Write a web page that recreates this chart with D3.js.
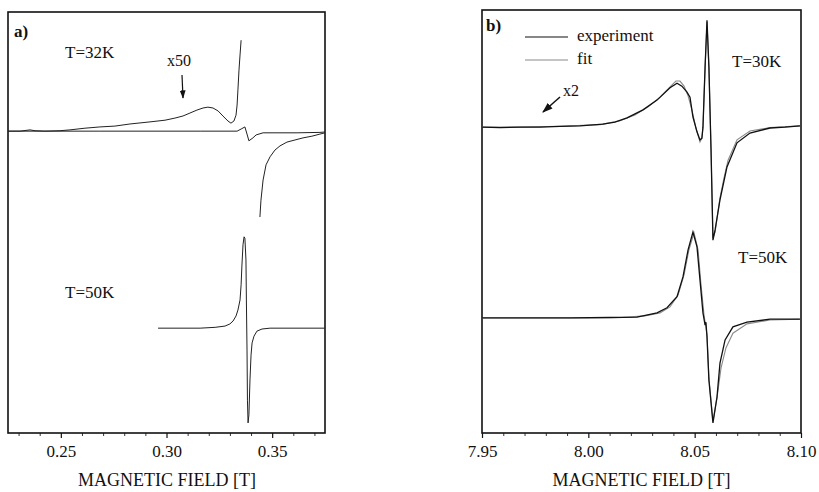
<!DOCTYPE html>
<html>
<head>
<meta charset="utf-8">
<script src="https://cdn.jsdelivr.net/npm/d3@7"></script>
<style>
  html, body { margin: 0; padding: 0; background: #fff; }
  svg { display: block; }
</style>
</head>
<body>
<svg id="chart" width="819" height="492"></svg>
<script>
// ---------- DATA (field in tesla, signal in arbitrary units 0..100) ----------
// Panel a) X-band
const ticksA = [0.25, 0.30, 0.35];
const exp32x50_part1 = [
  [0.2250,71.7],[0.2307,71.7],[0.2354,72.0],[0.2378,71.8],[0.2425,71.7],[0.2496,71.8],
  [0.2543,72.0],[0.2614,72.4],[0.2685,72.7],[0.2756,72.9],[0.2827,73.4],[0.2922,73.9],
  [0.2993,74.3],[0.3040,74.8],[0.3078,75.3],[0.3111,76.0],[0.3144,76.7],[0.3173,77.2],
  [0.3196,77.4],[0.3220,77.2],[0.3244,76.5],[0.3267,75.3],[0.3291,74.1],[0.3305,73.6],
  [0.3319,74.1],[0.3329,75.5],[0.3334,77.9],[0.3338,81.5],[0.3343,86.2],[0.3348,89.8],
  [0.3353,93.3]
];
const exp32x50_part2 = [
  [0.3442,51.3],[0.3447,55.3],[0.3457,60.1],[0.3471,63.7],[0.3490,65.6],[0.3513,67.2],
  [0.3537,68.2],[0.3570,69.1],[0.3608,69.6],[0.3646,70.1],[0.3688,70.5],[0.3726,71.0],
  [0.3750,71.3]
];
const exp32x1 = [
  [0.2250,71.7],[0.2354,71.7],[0.2685,71.7],[0.3159,71.7],[0.3334,71.7],[0.3353,72.2],
  [0.3371,72.7],[0.3381,71.0],[0.3390,69.4],[0.3409,70.1],[0.3424,70.8],[0.3457,71.3],
  [0.3537,71.3],[0.3618,71.3],[0.3726,71.4],[0.3750,71.5]
];
const exp50A = [
  [0.2960,24.9],[0.3064,24.9],[0.3159,24.9],[0.3230,25.1],[0.3277,25.4],[0.3300,25.9],
  [0.3315,26.6],[0.3329,27.8],[0.3338,29.2],[0.3348,31.6],[0.3353,35.2],[0.3357,39.9],
  [0.3362,44.7],[0.3367,46.6],[0.3371,46.3],[0.3376,41.1],[0.3378,31.6],[0.3381,19.7],
  [0.3383,7.8],[0.3386,2.4],[0.3390,4.3],[0.3395,12.6],[0.3400,18.5],[0.3405,21.4],
  [0.3414,23.0],[0.3428,24.2],[0.3452,24.7],[0.3490,24.9],[0.3750,24.9]
];

// Panel b) high field
const ticksB = [7.95, 8.00, 8.05, 8.10];
const exp30B = [
  [7.9500,72.3],[7.9585,72.2],[7.9679,72.3],[7.9773,72.3],[7.9867,72.5],[7.9961,72.6],
  [8.0069,73.0],[8.0125,73.5],[8.0182,74.5],[8.0257,76.4],[8.0323,78.7],[8.0384,81.6],
  [8.0417,82.7],[8.0440,82.0],[8.0464,80.6],[8.0478,79.4],[8.0492,74.7],[8.0511,71.2],
  [8.0525,69.3],[8.0534,69.7],[8.0539,72.3],[8.0549,86.5],[8.0558,97.6],[8.0567,86.5],
  [8.0577,66.9],[8.0582,55.1],[8.0586,45.6],[8.0596,48.0],[8.0619,55.1],[8.0652,62.9],
  [8.0699,68.6],[8.0760,70.9],[8.0854,72.1],[8.0925,72.3],[8.0995,72.6]
];
const fit30B = [
  [7.9500,72.3],[7.9679,72.3],[7.9867,72.5],[8.0055,72.9],[8.0149,73.8],[8.0219,75.2],
  [8.0281,77.1],[8.0337,79.4],[8.0384,81.8],[8.0412,83.2],[8.0431,83.2],[8.0450,82.0],
  [8.0469,79.7],[8.0487,76.4],[8.0506,72.1],[8.0525,68.8],[8.0534,69.7],[8.0539,72.3],
  [8.0549,86.5],[8.0558,97.2],[8.0567,86.5],[8.0577,66.9],[8.0582,55.1],[8.0586,46.1],
  [8.0596,47.5],[8.0619,55.6],[8.0638,60.3],[8.0657,64.5],[8.0699,69.3],[8.0760,71.4],
  [8.0854,72.2],[8.0995,72.6]
];
const exp50B = [
  [7.9500,27.2],[7.9679,27.2],[7.9914,27.2],[8.0102,27.3],[8.0229,27.4],[8.0323,28.4],
  [8.0370,29.6],[8.0417,32.2],[8.0445,36.9],[8.0469,43.3],[8.0492,47.5],[8.0511,44.0],
  [8.0525,36.2],[8.0539,28.4],[8.0549,25.5],[8.0553,26.2],[8.0558,22.7],[8.0567,12.5],
  [8.0586,2.4],[8.0605,8.5],[8.0619,16.5],[8.0643,22.0],[8.0680,25.1],[8.0746,26.2],
  [8.0854,26.9],[8.0995,26.9]
];
const fit50B = [
  [7.9500,27.2],[7.9914,27.2],[8.0149,27.3],[8.0266,27.7],[8.0337,28.4],[8.0384,29.8],
  [8.0422,32.6],[8.0450,37.4],[8.0473,43.3],[8.0497,47.3],[8.0516,43.3],[8.0530,35.0],
  [8.0544,27.9],[8.0558,23.2],[8.0567,13.0],[8.0586,2.8],[8.0605,8.3],[8.0624,15.4],
  [8.0647,20.1],[8.0680,23.6],[8.0746,25.8],[8.0854,26.7],[8.0995,26.9]
];

// ---------- DRAWING ----------
const FONT = "'Liberation Serif', 'Times New Roman', serif";
const svg = d3.select("#chart");
svg.append("rect").attr("width", 819).attr("height", 492).attr("fill", "#fff");

const defs = svg.append("defs");
defs.append("marker").attr("id", "arrow").attr("viewBox", "0 0 10 10")
  .attr("refX", 9).attr("refY", 5).attr("markerWidth", 7).attr("markerHeight", 7)
  .attr("orient", "auto")
  .append("path").attr("d", "M0,1.5 L10,5 L0,8.5 Z").attr("fill", "#111");

function panel(cfg) {
  const x = d3.scaleLinear().domain(cfg.xDomain).range([cfg.left, cfg.right]);
  const y = d3.scaleLinear().domain([0, 100]).range([cfg.bottom, cfg.top]);
  const g = svg.append("g");
  defs.append("clipPath").attr("id", cfg.id)
    .append("rect").attr("x", cfg.left).attr("y", cfg.top)
    .attr("width", cfg.right - cfg.left).attr("height", cfg.bottom - cfg.top);

  // minor ticks
  g.append("g").attr("transform", `translate(0,${cfg.bottom})`)
    .call(d3.axisBottom(x).tickValues(cfg.minor).tickSize(3).tickFormat(""))
    .call(a => a.select(".domain").remove())
    .call(a => a.selectAll("line").attr("stroke", "#333").attr("stroke-width", 1));
  // major ticks
  g.append("g").attr("transform", `translate(0,${cfg.bottom})`)
    .call(d3.axisBottom(x).tickValues(cfg.ticks).tickSize(5).tickPadding(7).tickFormat(d3.format(".2f")))
    .call(a => a.select(".domain").remove())
    .call(a => a.selectAll("line").attr("stroke", "#111").attr("stroke-width", 1.2))
    .call(a => a.selectAll("text").attr("font-family", FONT).attr("font-size", 17).attr("fill", "#111"));

  // frame
  g.append("rect").attr("x", cfg.left).attr("y", cfg.top)
    .attr("width", cfg.right - cfg.left).attr("height", cfg.bottom - cfg.top)
    .attr("fill", "none").attr("stroke", "#111").attr("stroke-width", 1.6);

  // axis title
  g.append("text").attr("x", (cfg.left + cfg.right) / 2 + cfg.titleShift).attr("y", 486)
    .attr("text-anchor", "middle").attr("font-family", FONT).attr("font-size", 18)
    .attr("fill", "#111").text("MAGNETIC FIELD [T]");

  const plot = g.append("g").attr("clip-path", `url(#${cfg.id})`);
  const line = d3.line().x(d => x(d[0])).y(d => y(d[1]));
  return { x, y, g, plot, line };
}

// Panel a
const minorA = d3.range(23, 38).map(v => v / 100).filter(v => !ticksA.some(t => Math.abs(t - v) < 1e-9));
const A = panel({ id: "clipA", xDomain: [0.225, 0.375], left: 8, right: 325, top: 12, bottom: 433,
  ticks: ticksA, minor: minorA, titleShift: 0.5 });
[exp32x1, exp32x50_part1, exp32x50_part2, exp50A].forEach(s => {
  A.plot.append("path").datum(s).attr("d", A.line)
    .attr("fill", "none").attr("stroke", "#222").attr("stroke-width", 1);
});

// Panel b
const minorB = d3.range(795, 811).map(v => v / 100).filter(v => !ticksB.some(t => Math.abs(t - v) < 1e-9));
const B = panel({ id: "clipB", xDomain: [7.95, 8.10], left: 482, right: 801, top: 10, bottom: 433,
  ticks: ticksB, minor: minorB, titleShift: 0 });
[fit30B, fit50B].forEach(s => {
  B.plot.append("path").datum(s).attr("d", B.line)
    .attr("fill", "none").attr("stroke", "#8a8a8a").attr("stroke-width", 1.1);
});
[exp30B, exp50B].forEach(s => {
  B.plot.append("path").datum(s).attr("d", B.line)
    .attr("fill", "none").attr("stroke", "#111").attr("stroke-width", 1.3);
});

// ---------- ANNOTATIONS ----------
function label(txt, x, y, size, weight) {
  svg.append("text").attr("x", x).attr("y", y).attr("font-family", FONT)
    .attr("font-size", size).attr("font-weight", weight || "normal").attr("fill", "#111").text(txt);
}
label("a)", 14, 37, 17, "bold");
label("T=32K", 65, 58, 17);
label("x50", 167, 66, 16);
label("T=50K", 65, 298, 17);
svg.append("line").attr("x1", 182).attr("y1", 75).attr("x2", 183).attr("y2", 98)
  .attr("stroke", "#111").attr("stroke-width", 1.2).attr("marker-end", "url(#arrow)");

label("b)", 486, 31, 17, "bold");
label("T=30K", 732, 67, 17);
label("T=50K", 738, 263, 17);
label("x2", 563, 96, 16);
svg.append("line").attr("x1", 560).attr("y1", 97).attr("x2", 543).attr("y2", 112)
  .attr("stroke", "#111").attr("stroke-width", 1.5).attr("marker-end", "url(#arrow)");

// legend
svg.append("line").attr("x1", 525).attr("x2", 568).attr("y1", 37).attr("y2", 37)
  .attr("stroke", "#111").attr("stroke-width", 1.1);
label("experiment", 577, 41, 17);
svg.append("line").attr("x1", 525).attr("x2", 568).attr("y1", 60).attr("y2", 60)
  .attr("stroke", "#8a8a8a").attr("stroke-width", 1.1);
label("fit", 577, 64, 17);
</script>
</body>
</html>
